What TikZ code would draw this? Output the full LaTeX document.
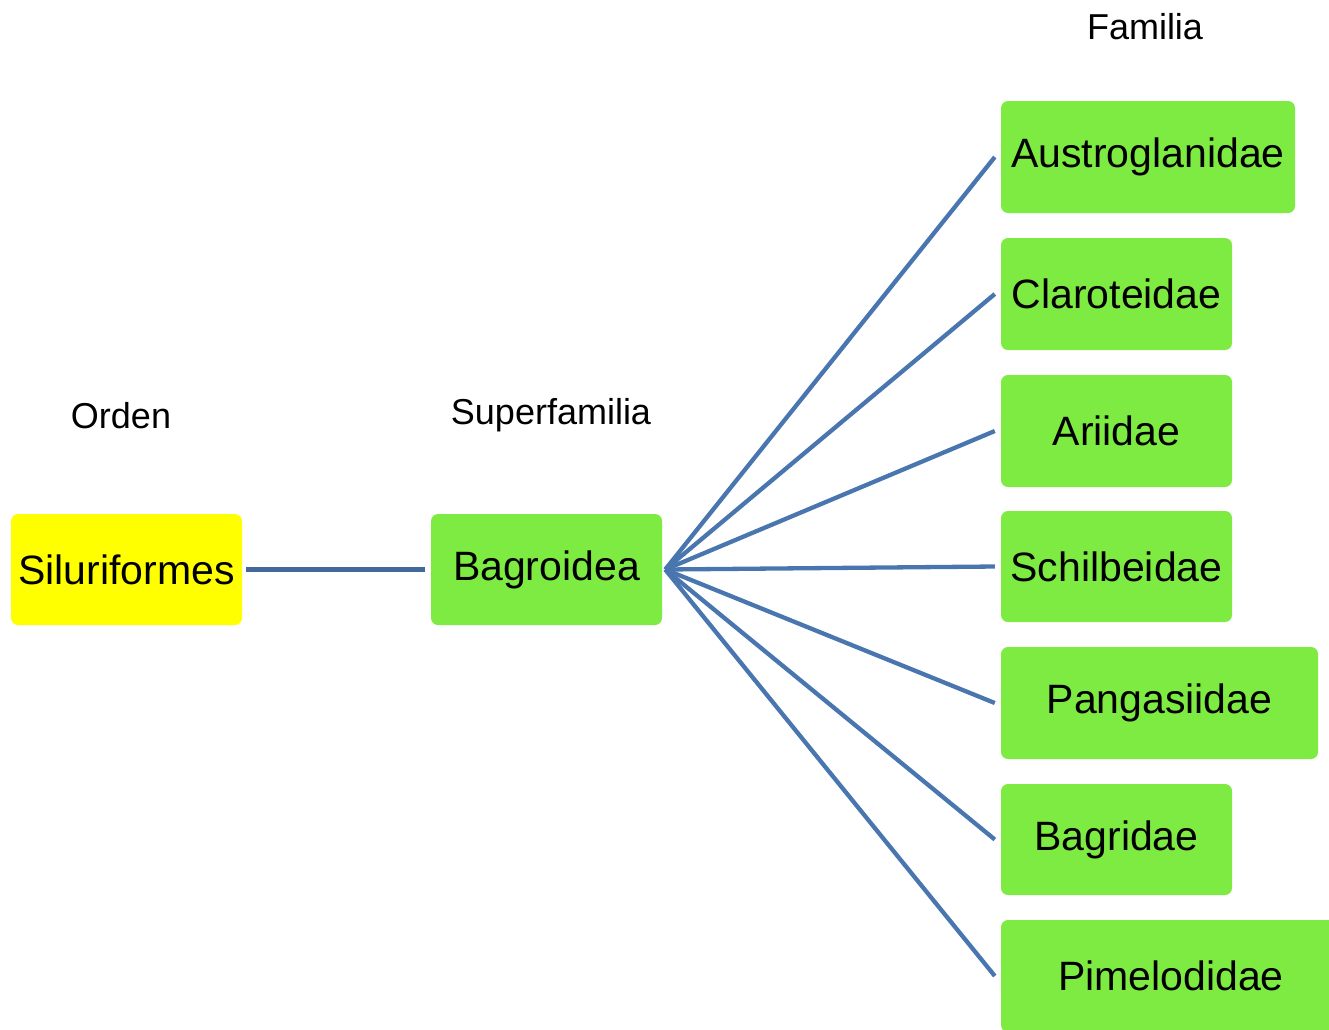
\documentclass[tikz,border=0pt]{standalone}
\usepackage{fontspec}
\setmainfont{Liberation Sans}
\begin{document}
\begin{tikzpicture}[x=1pt,y=-1pt,
  taxon/.style={rounded corners=7pt, inner sep=0pt, text=black,
    font=\fontsize{41}{49}\selectfont},
  ordbox/.style={taxon, fill=ordfill},
  grpbox/.style={taxon, fill=grpfill},
  rank/.style={font=\fontsize{36}{43}\selectfont, text=black, inner sep=0pt},
  link/.style={draw=linkblue, line width=4.3pt},
  mainlink/.style={draw=linkdark, line width=4.3pt}]
\definecolor{ordfill}{HTML}{FFFF00}
\definecolor{grpfill}{HTML}{7DEB41}
\definecolor{linkblue}{HTML}{4A76B0}
\definecolor{linkdark}{HTML}{42689C}
\useasboundingbox (0,0) rectangle (1329,1029);
\clip (0,0) rectangle (1329,1029);

% rank headings
\node[rank] (hOrd) at (121,416) {Orden};
\node[rank] (hSup) at (551,415) {Superfamilia};
\node[rank] (hFam) at (1145,27) {Familia};

% order and superfamily
\node[ordbox, minimum width=231pt, minimum height=111pt] (silur) at (126.5,569.5) {Siluriformes};
\node[grpbox, minimum width=231pt, minimum height=111pt] (bagro) at (546.5,569.5) {Bagroidea};

% families
\node[grpbox, minimum width=294pt, minimum height=112pt] (austro) at (1148,157) {Austroglanidae};
\node[grpbox, minimum width=231pt, minimum height=112pt] (claro) at (1116.5,294) {Claroteidae};
\node[grpbox, minimum width=231pt, minimum height=112pt] (ariid) at (1116.5,431) {Ariidae};
\node[grpbox, minimum width=231pt, minimum height=111pt] (schil) at (1116.5,566.5) {Schilbeidae};
\node[grpbox, minimum width=317pt, minimum height=112pt] (panga) at (1159.5,703) {Pangasiidae};
\node[grpbox, minimum width=231pt, minimum height=111pt] (bagri) at (1116.5,839.5) {Bagridae};
\node[grpbox, minimum width=340pt, minimum height=112pt] (pimel) at (1171,976) {Pimelodidae};

% connectors
\draw[mainlink] ([xshift=4pt]silur.east) -- ([xshift=-6pt]bagro.west);
\foreach \f in {austro,claro,ariid,schil,panga,bagri,pimel}
  \draw[link] ([xshift=3pt]bagro.east) -- ([xshift=-6pt]\f.west);
\end{tikzpicture}
\end{document}
